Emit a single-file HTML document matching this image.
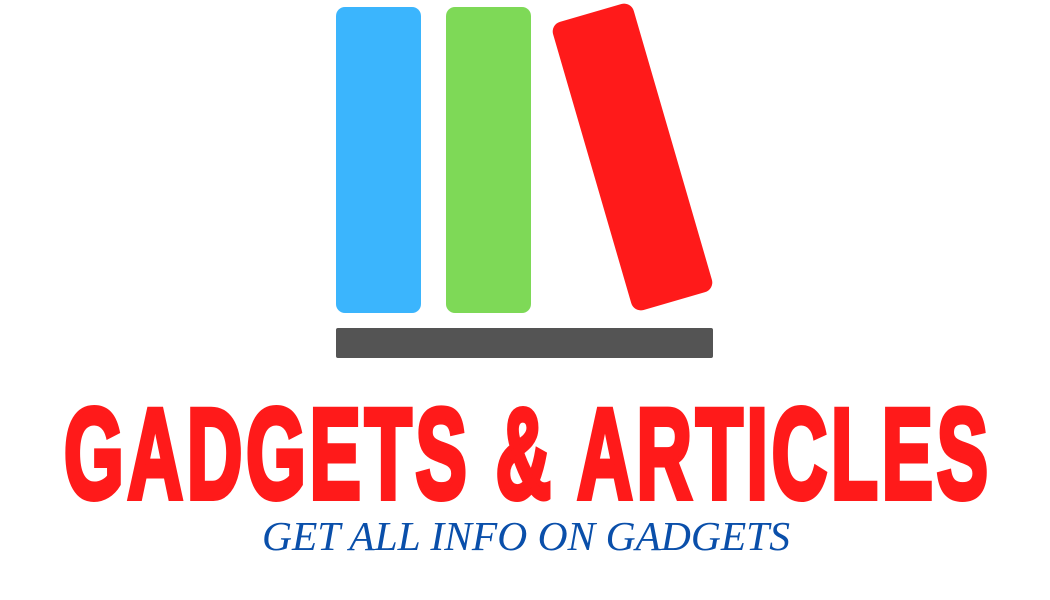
<!DOCTYPE html>
<html><head><meta charset="utf-8"><style>
html,body{margin:0;padding:0;background:#fff;width:1050px;height:600px;overflow:hidden}
</style></head><body>
<svg width="1050" height="600" viewBox="0 0 1050 600" xmlns="http://www.w3.org/2000/svg">
  <rect x="336" y="7" width="85" height="306" rx="9" fill="#3bb5fd"/>
  <rect x="446" y="7" width="85" height="306" rx="9" fill="#7ed957"/>
  <g transform="translate(632.5,157) rotate(-16.2)">
    <rect x="-42" y="-150" width="84" height="300" rx="10" fill="#ff1a1a"/>
  </g>
  <rect x="713" y="200" width="40" height="120" fill="#fff"/>
  <rect x="336" y="328" width="377" height="30" rx="2" fill="#545454"/>
  <g transform="translate(64,0) scale(0.6,1)">
    <text x="0" y="498" font-family="'Liberation Sans Narrow','Liberation Sans',sans-serif" font-weight="bold" font-size="128" fill="#ff1a1a" stroke="#ff1a1a" stroke-width="6" stroke-linejoin="miter" textLength="1540" lengthAdjust="spacing">GADGETS &amp; ARTICLES</text>
  </g>
  <text x="262" y="550" font-family="'Liberation Serif',serif" font-style="italic" font-size="41" fill="#0a4faa" textLength="528" lengthAdjust="spacingAndGlyphs">GET ALL INFO ON GADGETS</text>
</svg>
</body></html>
